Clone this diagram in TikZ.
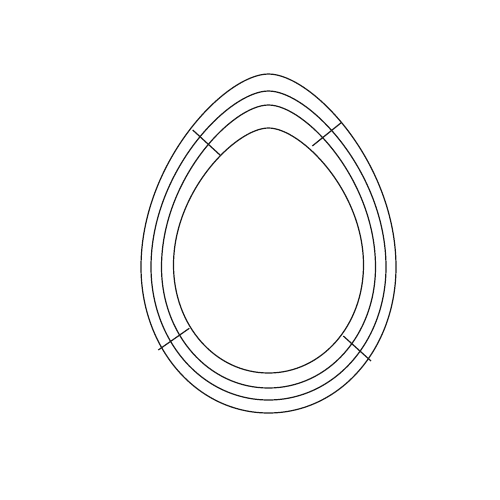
\documentclass[tikz,border=0pt]{standalone}
\begin{document}
\begin{tikzpicture}[x=1pt, y=-1pt,
    wire/.style={draw=black!90, line width=1.2pt},
    bar/.style={draw=black!90, line width=1.2pt}
]
\useasboundingbox (0,0) rectangle (500,500);
% four egg-shaped rings: half width / top / widest / bottom
\foreach \a/\t/\w/\b in {127.5/74/267/413, 117.5/91/267/400, 107/105/267/388, 95/128/265/373}{
  \draw[wire] (268.5,\b)
    .. controls ({268.5+0.56*\a},\b) and ({268.5+\a},{\w+0.56*(\b-\w)}) .. ({268.5+\a},\w)
    .. controls ({268.5+\a},{\w-0.54*(\w-\t)}) and ({268.5+0.34*\a},\t) .. (268.5,\t)
    .. controls ({268.5-0.34*\a},\t) and ({268.5-\a},{\w-0.54*(\w-\t)}) .. ({268.5-\a},\w)
    .. controls ({268.5-\a},{\w+0.56*(\b-\w)}) and ({268.5-0.56*\a},\b) .. cycle;
}
% cross bars
\coordinate (ulo) at (192.7,130);
\coordinate (uli) at (220,155);
\coordinate (uro) at (341.7,122.3);
\coordinate (uri) at (312.3,146);
\coordinate (llo) at (158.3,350);
\coordinate (lli) at (189.3,328.3);
\coordinate (lro) at (371,361);
\coordinate (lri) at (343.3,336);
\draw[bar] (ulo) -- (uli);
\draw[bar] (uro) -- (uri);
\draw[bar] (llo) -- (lli);
\draw[bar] (lro) -- (lri);
\end{tikzpicture}
\end{document}
